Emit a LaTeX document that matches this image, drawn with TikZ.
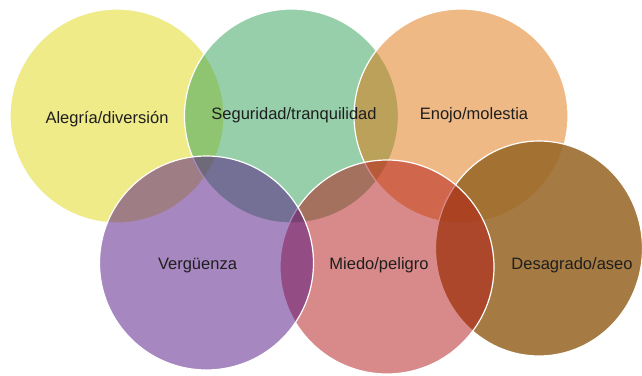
\documentclass[tikz,border=0pt]{standalone}
\usepackage{fontspec}
\setmainfont{Liberation Sans}
\usetikzlibrary{shapes.geometric}
\definecolor{cY}{RGB}{225,217,21}
\definecolor{cG}{RGB}{49,161,89}
\definecolor{cO}{RGB}{225,117,13}
\definecolor{cP}{RGB}{81,17,129}
\definecolor{cR}{RGB}{179,21,21}
\definecolor{cB}{RGB}{150,101,35}
\definecolor{txt}{RGB}{30,30,30}
\tikzset{
  venn/.style={circle, draw=white, line width=1.2pt, minimum size=214pt, inner sep=0pt, fill opacity=0.5},
  lbl/.style={anchor=base, text=txt, font=\fontsize{16.5}{20}\selectfont, inner sep=0pt}
}
\begin{document}
\begin{tikzpicture}[x=1pt,y=1pt]
\useasboundingbox (0,0) rectangle (642,375);
\fill[white] (0,0) rectangle (642,375);
\node[venn, fill=cY] (yel) at (117,259) {};
\node[venn, fill=cG] (gre) at (291.5,259) {};
\node[venn, fill=cO] (ora) at (461,259) {};
\node[venn, ellipse, fill=cB, fill opacity=0.85, minimum width=207pt, minimum height=215pt] (bro) at (539,126.5) {};
\node[venn, fill=cR] (red) at (387,108) {};
\node[venn, fill=cP] (pur) at (206.5,112) {};
\node[lbl] (tY) at (107,251) {Alegría/diversión};
\node[lbl] (tG) at (294,255) {Seguridad/tranquilidad};
\node[lbl] (tO) at (474,255) {Enojo/molestia};
\node[lbl] (tP) at (197.5,106) {Vergüenza};
\node[lbl] (tR) at (379,106) {Miedo/peligro};
\node[lbl] (tB) at (572,106) {Desagrado/aseo};
\end{tikzpicture}
\end{document}
